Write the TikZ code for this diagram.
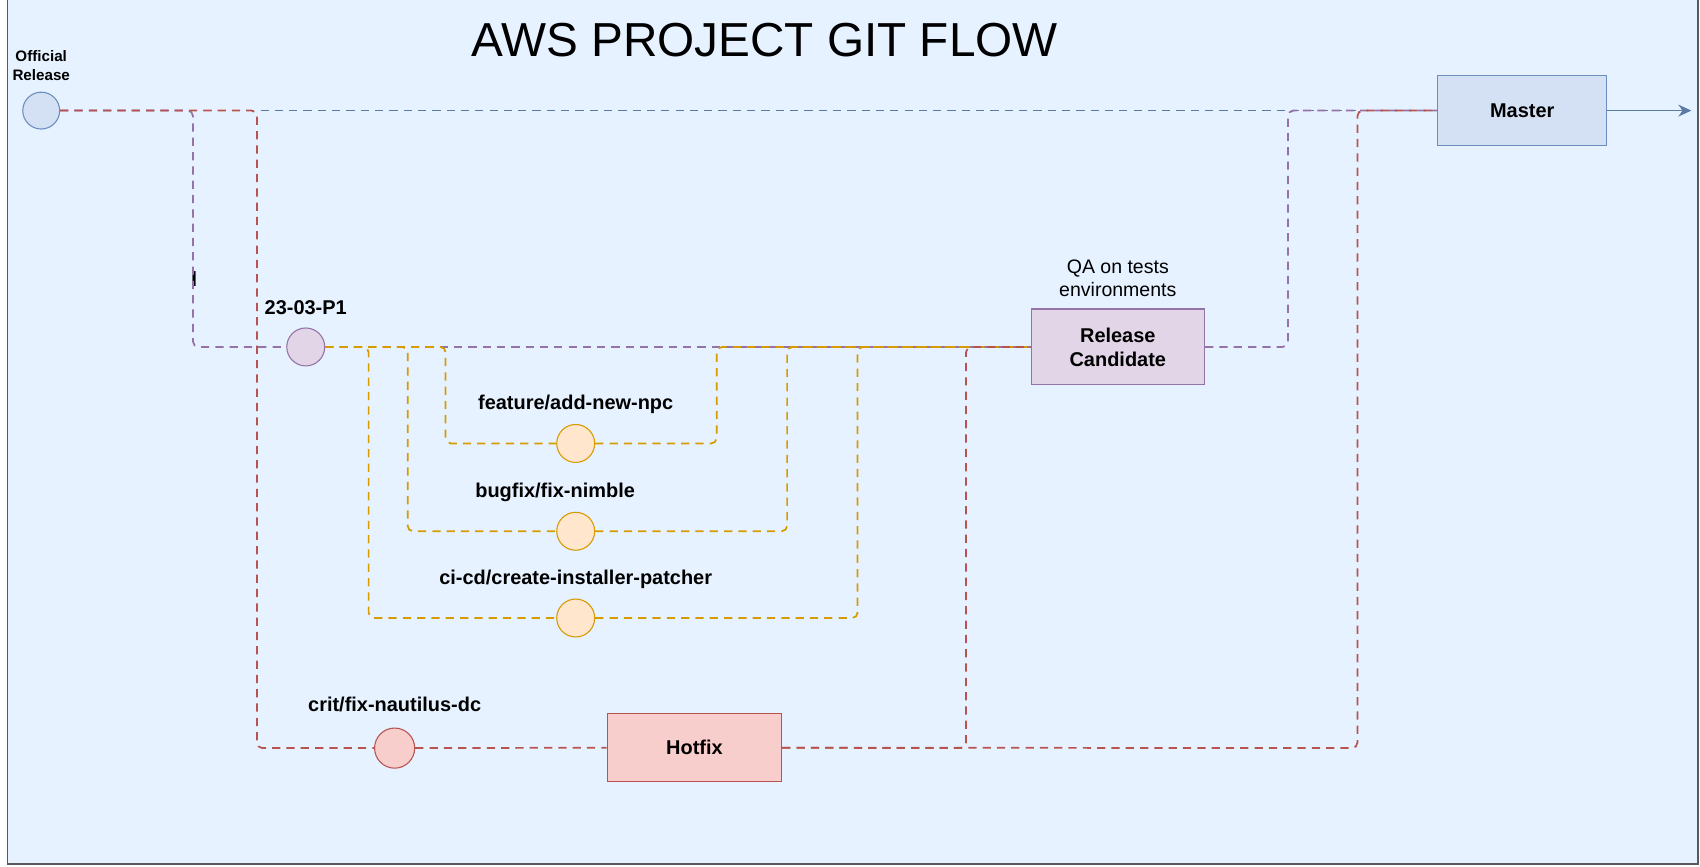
\documentclass[tikz,border=0pt]{standalone}
\usepackage{fontspec}
\setmainfont{Liberation Sans}
\usetikzlibrary{positioning,arrows.meta}

\definecolor{bgblue}{RGB}{230,242,255}
\definecolor{blufill}{HTML}{D4E1F5}
\definecolor{blustroke}{HTML}{6C8EBF}
\definecolor{bluline}{HTML}{5B7BA5}
\definecolor{purfill}{HTML}{E1D5E7}
\definecolor{purstroke}{HTML}{9673A6}
\definecolor{redfill}{HTML}{F8CECC}
\definecolor{redstroke}{HTML}{B85450}
\definecolor{orfill}{HTML}{FFE6CC}
\definecolor{orstroke}{HTML}{D79B00}

\begin{document}
\begin{tikzpicture}[x=0.5pt, y=-0.5pt, font=\fontsize{9.2}{11}\selectfont\bfseries,
	commit/.style = {draw, circle, minimum size=17.5pt, inner sep=0pt, line width=0.5pt},
	stage/.style = {draw, rectangle, align=center, inner sep=0pt, line width=0.5pt},
	lbl/.style = {inner sep=0pt},
	branch/.style = {line width=0.8pt, dash pattern=on 3.8pt off 2.8pt, rounded corners=2.5pt}]
	% page and frame
	\fill[white] (0,0) rectangle (1568,799);
	\useasboundingbox (0,0) rectangle (1568,799);
	\draw[fill=bgblue, draw=black!65, line width=0.8pt] (7,-10) rectangle (1566,797);
	\node[font=\fontsize{22}{26}\selectfont] (title) at (705,37) {AWS PROJECT GIT FLOW};

	% stages
	\node[commit, fill=blufill, draw=blustroke, minimum size=17pt] (off) at (38,102) {};
	\node[lbl, font=\fontsize{7}{8.6}\selectfont\bfseries, align=center, above=5pt of off] (offlbl) {Official\\Release};
	\node[stage, fill=blufill, draw=blustroke, minimum width=78pt, minimum height=32pt] (mas) at (1404,102) {Master};
	\node[stage, fill=purfill, draw=purstroke, minimum width=80pt, minimum height=35pt] (rc) at (1031,320) {Release\\Candidate};
	\node[lbl, font=\fontsize{9}{11}\selectfont, align=center, above=5pt of rc] (qa) {QA on tests\\environments};
	\node[stage, fill=redfill, draw=redstroke, minimum width=80.5pt, minimum height=31.5pt] (hot) at (640.5,689.5) {Hotfix};

	% commits
	\node[commit, fill=purfill, draw=purstroke] (p1) at (282,320) {};
	\node[lbl, above=5.75pt of p1] (p1lbl) {23-03-P1};
	\node[commit, fill=orfill, draw=orstroke] (feat) at (531,409) {};
	\node[lbl, above=4.5pt of feat] (featlbl) {feature/add-new-npc};
	\node[commit, fill=orfill, draw=orstroke] (bug) at (531,490) {};
	\node[lbl, above=4.5pt of bug, xshift=-9.5pt] (buglbl) {bugfix/fix-nimble};
	\node[commit, fill=orfill, draw=orstroke] (cicd) at (531,570) {};
	\node[lbl, above=4.5pt of cicd] (cicdlbl) {ci-cd/create-installer-patcher};
	\node[commit, fill=redfill, draw=redstroke, minimum size=18.5pt] (crit) at (364,690) {};
	\node[lbl, above=7pt of crit] (critlbl) {crit/fix-nautilus-dc};
	\node[lbl, font=\fontsize{10}{12}\selectfont\bfseries] (mark) at (179,257) {I};

	% connectors
	\draw[branch, draw=bluline] (off) -- (mas);
	\draw[branch, draw=purstroke] (off) -- (178,102) |- (p1);
	\draw[branch, draw=purstroke] (p1) -- (rc);
	\draw[branch, draw=purstroke] (rc) -- (1188,320) |- (mas);
	\draw[branch, draw=orstroke] (p1) -- (411,320) |- (feat);
	\draw[branch, draw=orstroke] (feat) -- (661,409) |- (rc);
	\draw[branch, draw=orstroke] (p1) -- (376,320) |- (bug);
	\draw[branch, draw=orstroke] (bug) -- (726,490) |- (rc);
	\draw[branch, draw=orstroke] (p1) -- (340,320) |- (cicd);
	\draw[branch, draw=orstroke] (cicd) -- (791,570) |- (rc);
	\draw[branch, draw=redstroke] (off) -- (237,102) |- (crit);
	\draw[branch, draw=redstroke] (crit) -- (hot);
	\draw[branch, draw=redstroke] (hot) -- (891,690) |- (rc);
	\draw[branch, draw=redstroke] (hot) -- (1252,690) |- (mas);
	\coordinate (out) at (1560,102);
	\draw[bluline, line width=0.8pt, -{Stealth[length=6pt, width=5.5pt]}] (mas) -- (out);
\end{tikzpicture}
\end{document}
